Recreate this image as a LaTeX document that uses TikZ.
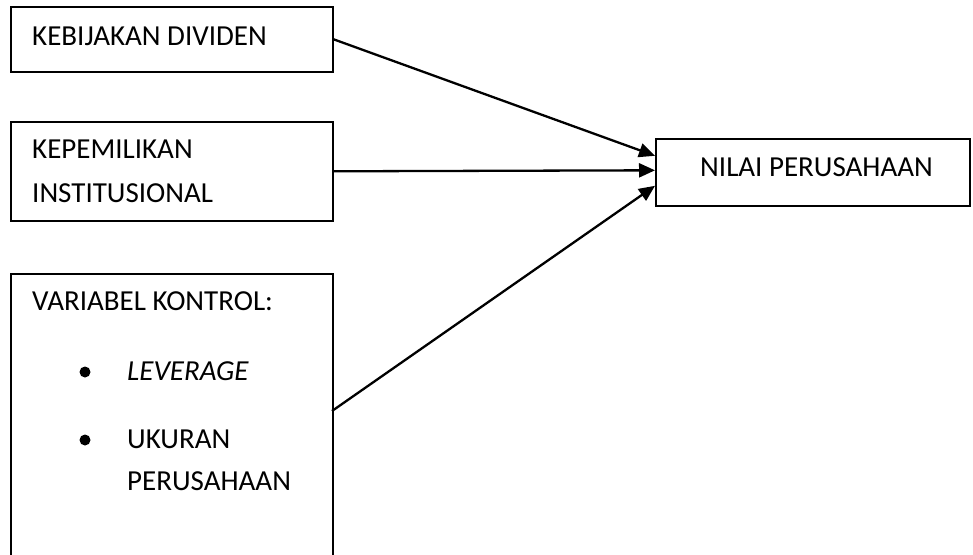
\documentclass[tikz,border=0pt]{standalone}
\usepackage{fontspec}
\setmainfont{Carlito}
\usetikzlibrary{arrows.meta}
\begin{document}
\begin{tikzpicture}[x=1pt,y=-1pt,
  box/.style={draw,line width=1.6pt,minimum width=322pt,anchor=north west,inner sep=0pt},
  lbl/.style={anchor=base west,inner sep=0pt,font=\fontsize{29}{35}\selectfont},
  dot/.style={circle,fill,inner sep=0pt,minimum size=11pt},
  arr/.style={line width=2.3pt,-{Triangle[length=16pt,width=14pt]}}]
\useasboundingbox (0,0) rectangle (973,554);
\node[box,minimum height=65pt] (b1) at (10,6) {};
\node[box,minimum height=99pt] (b2) at (10,121) {};
\node[box,minimum height=300pt] (b3) at (10,273) {};
\node[box,minimum width=314pt,minimum height=67pt] (b4) at (655,138) {};
\node[lbl] (t1) at (32,45) {KEBIJAKAN DIVIDEN};
\node[lbl] (t2a) at (32,158) {KEPEMILIKAN};
\node[lbl] (t2b) at (32,202) {INSTITUSIONAL};
\node[lbl] (t3) at (32,310) {VARIABEL KONTROL:};
\node[dot] (bu1) at (85,372) {};
\node[lbl] (t3a) at (127,380) {\itshape LEVERAGE};
\node[dot] (bu2) at (85,440) {};
\node[lbl] (t3b) at (127,448) {UKURAN};
\node[lbl] (t3c) at (127,490) {PERUSAHAAN};
\node[lbl] (t4) at (700,176) {NILAI PERUSAHAAN};
\coordinate (s3) at (332,411);
\draw[arr] (b1.east) -- ([yshift=16.5pt]b4.west);
\draw[arr] (b2.east) -- ([yshift=2pt]b4.west);
\draw[arr] (s3) -- ([yshift=-13.5pt]b4.west);
\end{tikzpicture}
\end{document}
